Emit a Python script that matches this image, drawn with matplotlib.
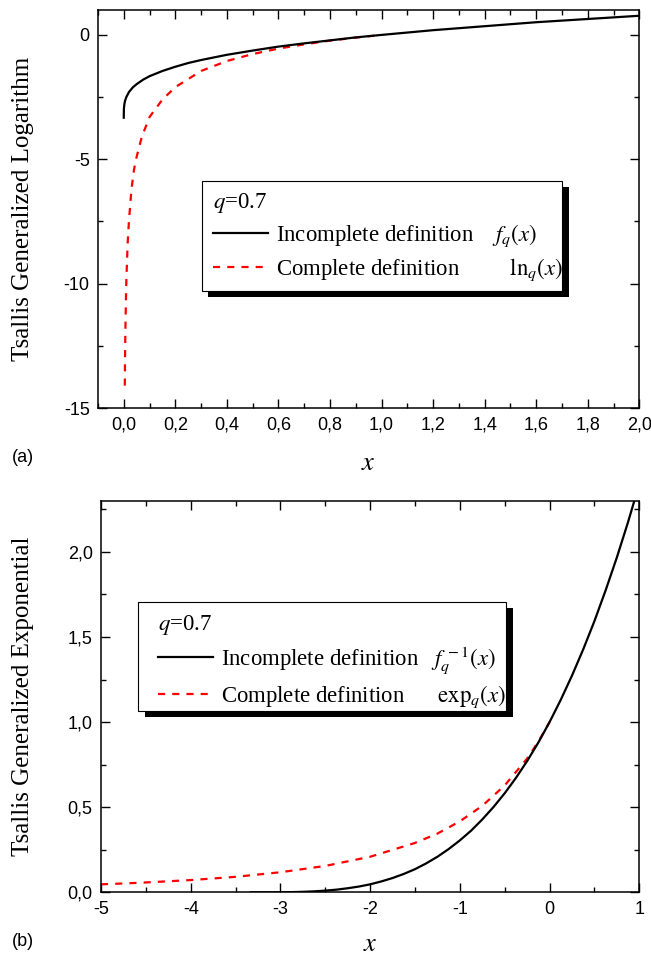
import matplotlib
matplotlib.use("Agg")
import matplotlib.pyplot as plt
import matplotlib.patheffects as pe
from matplotlib.patches import Rectangle
from matplotlib.ticker import MultipleLocator, FuncFormatter

plt.rcParams['font.family'] = ['Liberation Serif', 'DejaVu Serif']
plt.rcParams['mathtext.fontset'] = 'stix'

# (a) generalized logarithm, q = 0.7
log_inc_x = [0, 0.0005, 0.001, 0.003, 0.005, 0.01, 0.02, 0.035, 0.05, 0.075, 0.1, 0.15,
             0.2, 0.25, 0.3, 0.4, 0.5, 0.6, 0.7, 0.8, 0.9, 1.0, 1.2, 1.4, 1.6, 1.8, 2.0]
log_inc_y = [-3.33, -2.99, -2.91, -2.75, -2.65, -2.50, -2.30, -2.11, -1.98, -1.80, -1.66, -1.45,
             -1.28, -1.13, -1.01, -0.80, -0.63, -0.47, -0.34, -0.22, -0.10, 0.0, 0.19, 0.35,
             0.51, 0.64, 0.77]
log_com_x = [0.004, 0.005, 0.006, 0.008, 0.01, 0.015, 0.02, 0.03, 0.04, 0.05, 0.07, 0.1,
             0.15, 0.2, 0.3, 0.4, 0.5, 0.6, 0.7, 0.8, 0.9, 1.0]
log_com_y = [-14.1, -13.0, -12.1, -10.9, -9.9, -8.4, -7.5, -6.2, -5.4, -4.9, -4.1, -3.3,
             -2.6, -2.1, -1.45, -1.05, -0.77, -0.55, -0.38, -0.23, -0.11, 0.0]

# (b) generalized exponential, q = 0.7
exp_inc_x = [-3.33, -3.125, -3.0, -2.875, -2.75, -2.625, -2.5, -2.375, -2.25, -2.125, -2.0,
             -1.875, -1.75, -1.625, -1.5, -1.375, -1.25, -1.125, -1.0, -0.875, -0.75, -0.625,
             -0.5, -0.375, -0.25, -0.125, 0.0, 0.125, 0.25, 0.375, 0.5, 0.625, 0.75, 0.875, 1.0]
exp_inc_y = [0.0, 0.0001, 0.0005, 0.0013, 0.003, 0.0057, 0.010, 0.0157, 0.024, 0.034, 0.047,
             0.064, 0.084, 0.108, 0.136, 0.170, 0.209, 0.254, 0.305, 0.362, 0.428, 0.501,
             0.582, 0.672, 0.771, 0.880, 1.0, 1.131, 1.273, 1.427, 1.593, 1.774, 1.967, 2.175,
             2.398]
exp_com_x = [-5, -4.75, -4.5, -4, -3.5, -3, -2.5, -2, -1.5, -1.25, -1, -0.75, -0.5, -0.25,
             -0.125, 0]
exp_com_y = [0.047, 0.052, 0.058, 0.072, 0.091, 0.118, 0.155, 0.209, 0.290, 0.345, 0.417,
             0.508, 0.628, 0.786, 0.885, 1.0]

TICK_FONT = 'Liberation Sans'


def comma(fmt):
    return FuncFormatter(lambda v, p: (fmt % v).replace('.', ','))


def style_axes(ax):
    ax.tick_params(which='both', direction='in', top=True, right=True, width=1,
                   labelsize=13, pad=6)
    ax.tick_params(which='major', length=6.5)
    ax.tick_params(which='minor', length=3.5)
    for lab in ax.get_xticklabels() + ax.get_yticklabels():
        lab.set_fontfamily(TICK_FONT)
    for s in ax.spines.values():
        s.set_linewidth(1.1)


def add_legend(ax, handles, labels, box, anchor):
    # Origin-style framed box with a solid black drop shadow
    x0, y0, x1, y1 = box
    frame = Rectangle((x0, y0), x1 - x0, y1 - y0, transform=ax.transAxes,
                      facecolor='white', edgecolor='black', lw=0.8, zorder=4)
    frame.set_path_effects([
        pe.SimplePatchShadow(offset=(4.8, -4.8), shadow_rgbFace='black', alpha=1.0),
        pe.Normal()])
    ax.add_patch(frame)
    leg = ax.legend(handles, labels, title='$q$=0.7', loc='upper left',
                    bbox_to_anchor=anchor, borderaxespad=0, borderpad=0, fontsize=16.4,
                    title_fontsize=16.4, alignment='left', frameon=False,
                    handlelength=2.4, handletextpad=0.35, labelspacing=0.32)
    leg.set_zorder(5)
    return leg


fig = plt.figure(figsize=(6.51, 9.56), dpi=100)

# ---- panel (a)
ax1 = fig.add_axes([0.1505, 0.5732, 0.8315, 0.4163])
red1, = ax1.plot(log_com_x, log_com_y, color='red', lw=1.6, dashes=(3.2, 3.2))
blk1, = ax1.plot(log_inc_x, log_inc_y, color='black', lw=1.6)
ax1.set_xlim(-0.1, 2.0)
ax1.set_ylim(-15, 1)
ax1.xaxis.set_major_locator(MultipleLocator(0.2))
ax1.xaxis.set_minor_locator(MultipleLocator(0.1))
ax1.yaxis.set_major_locator(MultipleLocator(5))
ax1.yaxis.set_minor_locator(MultipleLocator(2.5))
ax1.xaxis.set_major_formatter(comma('%.1f'))
ax1.yaxis.set_major_formatter(comma('%.0f'))
style_axes(ax1)
ax1.set_xlabel('$x$', fontsize=19, labelpad=14)
add_legend(ax1, [blk1, red1],
           ['Incomplete definition    $f_q(x)$',
            'Complete definition         $\\mathrm{ln}_q(x)$'],
           (0.1916, 0.2947, 0.857, 0.571), (0.2125, 0.545))
fig.text(0.035, 0.781, 'Tsallis Generalized Logarithm', rotation=90,
         ha='center', va='center', fontsize=18)
fig.text(0.018, 0.521, '(a)', fontfamily=TICK_FONT, fontsize=13, va='center')

# ---- panel (b)
ax2 = fig.add_axes([0.1551, 0.0666, 0.8269, 0.4096])
red2, = ax2.plot(exp_com_x, exp_com_y, color='red', lw=1.6, dashes=(3.2, 3.2))
blk2, = ax2.plot(exp_inc_x, exp_inc_y, color='black', lw=1.6)
ax2.set_xlim(-5, 1)
ax2.set_ylim(0, 2.3)
ax2.xaxis.set_major_locator(MultipleLocator(1))
ax2.xaxis.set_minor_locator(MultipleLocator(0.5))
ax2.yaxis.set_major_locator(MultipleLocator(0.5))
ax2.yaxis.set_minor_locator(MultipleLocator(0.25))
ax2.xaxis.set_major_formatter(comma('%.0f'))
ax2.yaxis.set_major_formatter(comma('%.1f'))
style_axes(ax2)
ax2.set_xlabel('$x$', fontsize=19, labelpad=12)
add_legend(ax2, [blk2, red2],
           ['Incomplete definition   $f_q^{\\,-1}(x)$',
            'Complete definition      $\\mathrm{exp}_q(x)$'],
           (0.0693, 0.4637, 0.7523, 0.742), (0.1059, 0.714))
fig.text(0.035, 0.2714, 'Tsallis Generalized Exponential', rotation=90,
         ha='center', va='center', fontsize=18)
fig.text(0.018, 0.015, '(b)', fontfamily=TICK_FONT, fontsize=13, va='center')

fig.savefig('out.png', dpi=100)
